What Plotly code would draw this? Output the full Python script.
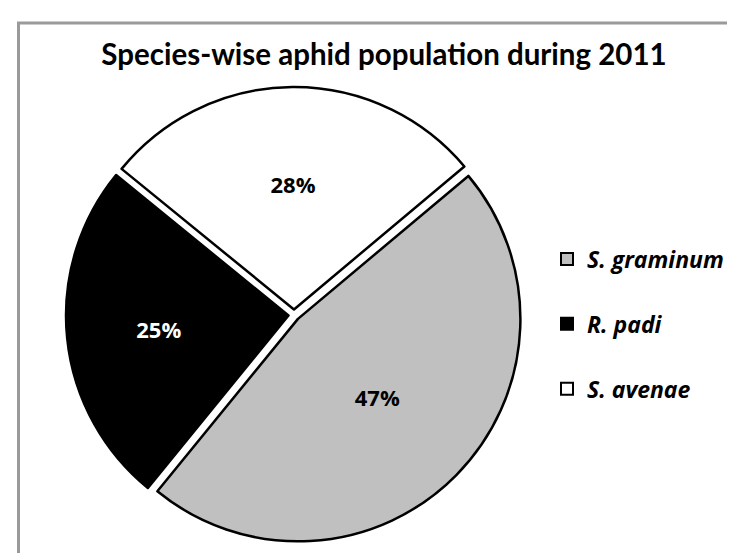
import plotly.graph_objects as go

species = ["S. graminum", "R. padi", "S. avenae"]
population_pct = [47, 25, 28]
slice_colors = ["#c0c0c0", "#000000", "#ffffff"]
label_colors = ["#000000", "#ffffff", "#000000"]
title_text = "Species-wise aphid population during 2011"

W, H = 735, 553
fig = go.Figure()

fig.add_trace(go.Pie(
    labels=species,
    values=population_pct,
    sort=False,
    direction="clockwise",
    rotation=50,
    pull=[0.025, 0.025, 0.025],
    marker=dict(colors=slice_colors, line=dict(color="#000000", width=2.5)),
    textinfo="percent",
    textposition="inside",
    insidetextorientation="horizontal",
    insidetextfont=dict(family="Open Sans", size=22, color=label_colors, weight="bold"),
    showlegend=False,
    hoverinfo="label+percent",
    domain=dict(x=[58 / W, 514 / W], y=[18 / H, 474 / H]),
))

# legend entries (one group each so spacing can be set)
for name, col in zip(species, slice_colors):
    fig.add_trace(go.Scatter(
        x=[None], y=[None], mode="markers", name=name,
        legendgroup=name,
        marker=dict(symbol="square", size=16, color=col,
                    line=dict(color="#000000", width=2.5)),
    ))

fig.update_layout(
    width=W, height=H,
    margin=dict(l=0, r=0, t=0, b=0),
    paper_bgcolor="white", plot_bgcolor="white",
    xaxis=dict(visible=False), yaxis=dict(visible=False),
    title=dict(text="<b>" + title_text + "</b>", x=376 / W, xanchor="center",
               y=1 - 47 / H, yanchor="middle",
               font=dict(family="Lato", size=29.5, color="#000000")),
    legend=dict(x=539 / W, xanchor="left", y=1 - 316 / H, yanchor="middle",
                font=dict(family="Open Sans", size=23, color="#000000",
                          weight="bold", style="italic"),
                tracegroupgap=32, itemsizing="constant",
                bgcolor="rgba(0,0,0,0)"),
    shapes=[dict(type="rect", xref="paper", yref="paper",
                 x0=10.5 / W, x1=1.02, y0=-0.02, y1=1 - 15 / H,
                 line=dict(color="#9a9a9a", width=3), fillcolor="rgba(0,0,0,0)",
                 layer="below")],
)

fig.write_html("out.html")
